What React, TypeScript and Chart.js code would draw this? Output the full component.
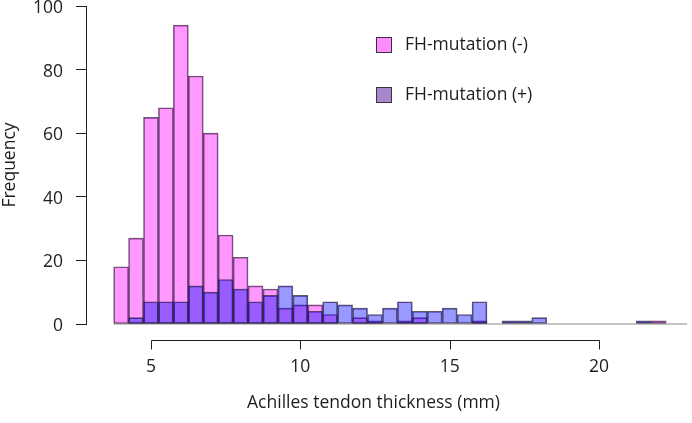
import React, { useEffect, useRef } from "react";
import { Chart, registerables } from "chart.js";

Chart.register(...registerables);

// Histogram bins (bin centres, width 0.5 mm)
const binCenters = [
  4, 4.5, 5, 5.5, 6, 6.5, 7, 7.5, 8, 8.5, 9, 9.5, 10, 10.5, 11, 11.5, 12, 12.5,
  13, 13.5, 14, 14.5, 15, 15.5, 16, 16.5, 17, 17.5, 18, 18.5, 19, 19.5, 20, 20.5,
  21, 21.5, 22,
];

// Frequencies, FH-mutation (-)
const fhNegative = [
  18, 27, 65, 68, 94, 78, 60, 28, 21, 12, 11, 5, 6, 6, 3, 0, 2, 1,
  0, 1, 2, 0, 0, 0, 1, 0, 0, 0, 0, 0, 0, 0, 0, 0,
  0, 0, 1,
];

// Frequencies, FH-mutation (+)
const fhPositive = [
  0, 2, 7, 7, 7, 12, 10, 14, 11, 7, 9, 12, 9, 4, 7, 6, 5, 3,
  5, 7, 4, 4, 5, 3, 7, 0, 1, 1, 2, 0, 0, 0, 0, 0,
  0, 1, 0,
];

const xTickValues = [5, 10, 15, 20];
const yTickValues = [0, 20, 40, 60, 80, 100];
const baselineRange = [3.75, 22.95];

const legendLabels = ["FH-mutation (-)", "FH-mutation (+)"];
const xTitle = "Achilles tendon thickness (mm)";
const yTitle = "Frequency";

const FONT_FAMILY = "'Open Sans', 'DejaVu Sans', sans-serif";
const FONT_SIZE = 17.5;
const TEXT_COLOR = "#1e1e1e";
const AXIS_COLOR = "#1e1e1e";
const BAR_BORDER = "rgba(45,35,55,0.75)";
const NEG_FILL = "rgba(255,0,255,0.4)";
const POS_FILL = "rgba(0,0,255,0.4)";
const LEGEND_FILLS = ["#ff8cff", "#a886cc"];

export default function App() {
  const canvasRef = useRef<HTMLCanvasElement>(null);

  useEffect(() => {
    if (!canvasRef.current) return;

    const toPoints = (vals: number[]) =>
      binCenters.map((x, i) => ({ x, y: vals[i] > 0 ? vals[i] : null }));

    const rStylePlugin = {
      id: "rStyle",
      afterDraw(chart: any) {
        const { ctx, scales, chartArea } = chart;
        const xs = scales.x;
        const axisY = Math.round(chartArea.bottom + 15.5) + 0.5;
        ctx.save();
        ctx.strokeStyle = AXIS_COLOR;
        ctx.lineWidth = 1;
        ctx.beginPath();
        const first = Math.round(xs.getPixelForValue(xTickValues[0])) + 0.5;
        const last =
          Math.round(xs.getPixelForValue(xTickValues[xTickValues.length - 1])) + 0.5;
        ctx.moveTo(first, axisY);
        ctx.lineTo(last, axisY);
        xTickValues.forEach((v) => {
          const px = Math.round(xs.getPixelForValue(v)) + 0.5;
          ctx.moveTo(px, axisY);
          ctx.lineTo(px, axisY + 9);
        });
        ctx.stroke();

        // legend
        const boxX = 376;
        const rows = [37, 87];
        ctx.font = `${FONT_SIZE}px ${FONT_FAMILY}`;
        ctx.textBaseline = "middle";
        ctx.textAlign = "left";
        legendLabels.forEach((label, i) => {
          const top = rows[i];
          ctx.fillStyle = LEGEND_FILLS[i];
          ctx.fillRect(boxX, top, 16, 16);
          ctx.strokeStyle = "#3a3040";
          ctx.lineWidth = 1;
          ctx.strokeRect(boxX + 0.5, top + 0.5, 15, 15);
          ctx.fillStyle = TEXT_COLOR;
          ctx.fillText(label, 405, top + 8.5);
        });
        ctx.restore();
      },
    };

    const font = { family: FONT_FAMILY, size: FONT_SIZE };

    const chart = new Chart(canvasRef.current, {
      type: "bar",
      data: {
        datasets: [
          {
            type: "bar",
            label: legendLabels[1],
            data: toPoints(fhPositive),
            backgroundColor: POS_FILL,
            borderColor: BAR_BORDER,
            borderWidth: 1,
            borderSkipped: false,
            grouped: false,
            barPercentage: 1,
            categoryPercentage: 1,
            clip: false,
            order: 1,
          } as any,
          {
            type: "bar",
            label: legendLabels[0],
            data: toPoints(fhNegative),
            backgroundColor: NEG_FILL,
            borderColor: BAR_BORDER,
            borderWidth: 1,
            borderSkipped: false,
            grouped: false,
            barPercentage: 1,
            categoryPercentage: 1,
            clip: false,
            order: 2,
          } as any,
          {
            type: "line",
            label: "baseline",
            data: baselineRange.map((x) => ({ x, y: 0 })),
            borderColor: "#8a8a8a",
            borderWidth: 1,
            pointRadius: 0,
            clip: false,
            order: 3,
          } as any,
        ],
      },
      options: {
        responsive: false,
        animation: false,
        layout: { padding: { top: 6, right: 31, bottom: 0, left: 0 } },
        plugins: {
          legend: { display: false },
          tooltip: { enabled: false },
        },
        scales: {
          x: {
            type: "linear",
            offset: false,
            min: 2.824,
            max: 22.076,
            grid: { display: false, drawTicks: false, offset: false },
            border: { display: false },
            ticks: {
              padding: 32.5,
              font,
              color: TEXT_COLOR,
              autoSkip: false,
              maxRotation: 0,
            },
            afterBuildTicks: (s: any) => {
              s.ticks = xTickValues.map((value) => ({ value }));
            },
            afterFit: (s: any) => {
              s.height = 99;
              s.paddingLeft = 0;
              s.paddingRight = 0;
            },
            title: {
              display: true,
              text: xTitle,
              font,
              color: TEXT_COLOR,
              padding: { top: 0, bottom: 9.5 },
            },
          },
          y: {
            type: "linear",
            min: 0,
            max: 100,
            grid: {
              drawOnChartArea: false,
              drawTicks: true,
              tickLength: 10,
              color: AXIS_COLOR,
              lineWidth: 1,
            },
            border: { display: true, color: AXIS_COLOR, width: 1 },
            ticks: { padding: 13, font, color: TEXT_COLOR, labelOffset: 2 },
            afterBuildTicks: (s: any) => {
              s.ticks = yTickValues.map((value) => ({ value }));
            },
            afterFit: (s: any) => {
              s.width = 86;
              s.paddingTop = 0;
              s.paddingBottom = 0;
            },
            title: {
              display: true,
              text: yTitle,
              font,
              color: TEXT_COLOR,
              padding: { top: 0, bottom: 0 },
            },
          },
        },
      } as any,
      plugins: [rStylePlugin],
    });

    return () => chart.destroy();
  }, []);

  return (
    <div style={{ position: "absolute", left: 0, top: 0, width: 692, height: 423, background: "#fff" }}>
      <canvas ref={canvasRef} width={692} height={423} style={{ display: "block" }} />
    </div>
  );
}
